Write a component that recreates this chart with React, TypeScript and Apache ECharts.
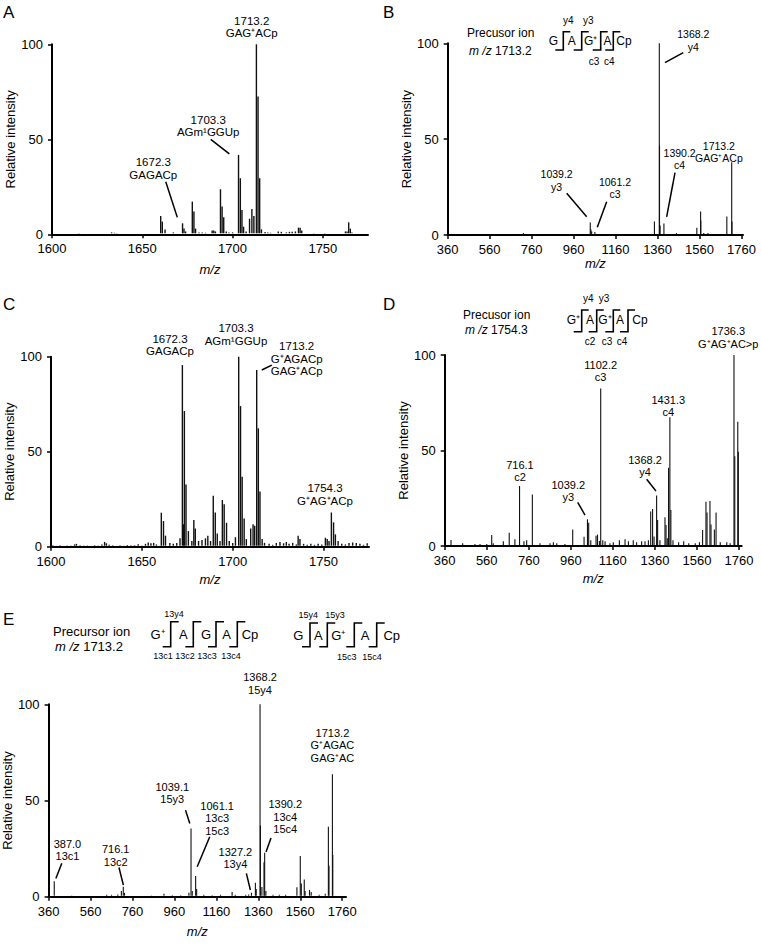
import React, { useEffect, useRef } from 'react';
import * as echarts from 'echarts';

const FONT = '"Liberation Sans", Arial, Helvetica, sans-serif';

// ---------------- data ----------------
const ticksNarrow = [1600, 1650, 1700, 1750];
const ticksWide = [360, 560, 760, 960, 1160, 1360, 1560, 1760];

// [m/z, relative intensity]
const peaksA: number[][] = [
  [1603, 0.5], [1615, 0.7], [1618, 0.5], [1633, 1], [1634.6, 0.8], [1636, 0.7],
  [1660.2, 9.6], [1661.1, 6.7], [1662.6, 2.5], [1667.2, 1], [1672.3, 5.8], [1673.1, 3], [1674, 1.5],
  [1677.7, 17.2], [1678.6, 12], [1679.5, 3], [1681.4, 1], [1683.2, 1], [1685, 0.8],
  [1688.7, 2], [1689.6, 2], [1690.5, 1.5], [1693.3, 23.7], [1694.2, 14.6], [1695.1, 9],
  [1696.5, 1.5], [1698, 1], [1700, 1], [1703.3, 41.8], [1704.3, 29.5], [1705.2, 12.8], [1706.1, 4],
  [1707.5, 1.5], [1709.4, 8.2], [1710.7, 13.3], [1711.8, 9.6], [1713.2, 100], [1714.1, 72.5],
  [1715, 29.5], [1716, 2.6], [1718, 1.2], [1719.5, 1], [1721, 0.8], [1725.3, 1.5], [1727, 1.3],
  [1729.8, 1], [1731.5, 1.3], [1733, 1.3], [1734.8, 1.5], [1736.5, 3.5], [1737.4, 3.5], [1738.3, 2],
  [1745, 0.7], [1748, 0.6], [1751, 0.7], [1754, 0.6], [1762.5, 1.5], [1763.4, 1.5], [1764.3, 6.3],
  [1765.2, 3], [1766.1, 1],
];

const peaksB: number[][] = [
  [721, 1], [903, 0.5], [960, 0.5], [1039.2, 6.5], [1042, 3], [1046, 2], [1061.2, 1.5], [1100, 0.5],
  [1208, 0.5], [1345, 7], [1368.2, 100], [1369.2, 46.5], [1372, 5], [1390.2, 6], [1450, 1],
  [1547, 3.8], [1565, 12.2], [1566, 7.5], [1580, 1], [1600, 1], [1690, 9.6], [1713.2, 38], [1714.5, 7],
];

const peaksC: number[][] = [
  [1601, 0.8], [1603, 0.6], [1605, 0.8], [1607, 0.5], [1609, 0.7], [1611, 0.6], [1613, 1.2], [1614, 1.5],
  [1616, 0.8], [1618, 0.6], [1620, 0.7], [1622, 0.5], [1624, 0.8], [1626, 0.6], [1628, 1.2], [1629.5, 2.5],
  [1630.5, 1.8], [1632, 1], [1634, 0.7], [1636, 0.5], [1638, 0.8], [1640, 0.6], [1642, 0.9], [1644, 0.7],
  [1646, 0.8], [1648, 1.3], [1650, 0.6], [1652, 1.5], [1653.5, 2.2], [1655, 1.8], [1656.5, 2], [1658, 1.2],
  [1660.7, 17.9], [1661.9, 13.5], [1663, 5.8], [1665.4, 2], [1667.3, 1.5], [1669.2, 2], [1671, 4.4],
  [1672.3, 95.6], [1673, 11.8], [1673.4, 71.4], [1674.3, 32.8], [1675.6, 8.2], [1677.5, 3], [1678.6, 14],
  [1679.4, 9.6], [1681.2, 3], [1683.1, 3.5], [1685, 4.4], [1686.3, 5.8], [1687.8, 3], [1689.3, 26.8],
  [1690.4, 18], [1691.5, 7], [1693, 3], [1694.3, 24.6], [1695.3, 22.3], [1696.6, 12.6], [1698.1, 3],
  [1700, 2], [1701.5, 5], [1703.3, 100], [1704.3, 74], [1705.2, 36.8], [1706.3, 14.9], [1707.5, 4],
  [1709.9, 9.6], [1711.2, 11.8], [1712.1, 11], [1713.2, 93], [1714.1, 62.3], [1715, 29], [1716.2, 4],
  [1717.5, 2], [1720, 1.5], [1722, 1], [1724, 2], [1726, 2.5], [1728, 1.8], [1729.5, 2.5], [1731, 1.5],
  [1733, 2], [1735, 1.2], [1736, 5.8], [1737, 4], [1739, 1.5], [1741, 1], [1743, 1.5], [1745, 1],
  [1747, 1.5], [1749, 1.2], [1751, 4.7], [1752, 4], [1753, 3], [1754.3, 18], [1755.5, 12.8],
  [1756.5, 6.5], [1758, 3], [1760, 1.5], [1762, 1.2], [1764, 2], [1766, 2.2], [1768, 2], [1770, 1.5],
  [1772, 1], [1774, 1.8],
];

const peaksD: number[][] = [
  [390, 3.1], [445.6, 1.5], [504, 1], [528, 1], [560, 1], [583.6, 5.8], [591, 1.5], [639, 2.5], [667, 7],
  [694, 3.5], [716.1, 31.4], [737, 2.5], [750, 3], [777, 27], [813, 1.5], [861, 1.5], [877, 2], [893, 1.5],
  [932, 1], [969, 8.7], [1023, 4.9], [1039.2, 14], [1045, 12.2], [1055, 3], [1080, 5.4], [1087, 6],
  [1096, 2.6], [1102.2, 82.5], [1112, 3], [1123, 2.5], [1146, 1.5], [1162, 2], [1191, 3], [1218, 3.5],
  [1234, 2.5], [1257, 3], [1273, 2], [1297, 2.5], [1313, 2.5], [1329, 3], [1340, 18], [1349, 19.4],
  [1356, 5], [1368.2, 26.4], [1373, 13.6], [1384, 3], [1408, 15], [1413, 11], [1419, 4], [1425, 41],
  [1431.3, 67.4], [1436, 18.8], [1446, 3], [1473, 2], [1497, 2.5], [1521, 1.5], [1552, 1.5], [1572, 2],
  [1587, 8.4], [1603, 23.2], [1608, 17.6], [1622, 23.6], [1627, 11.3], [1643, 8.7], [1651, 17.6],
  [1671, 2], [1702, 2], [1718, 1.5], [1736.3, 100], [1740, 47], [1754.3, 65], [1757, 49.4],
];

const peaksE: number[][] = [
  [387.0, 8], [420, 0.5], [470, 0.4], [520, 0.5], [637, 1], [660, 1], [690, 1.2], [707, 3], [716.1, 5.2],
  [722, 2], [800, 0.5], [850, 0.6], [910, 1.5], [950, 0.7], [990, 0.8], [1029, 2], [1039.1, 35.5],
  [1045, 3], [1061.1, 10.7], [1066, 4], [1100, 1], [1140, 0.8], [1180, 1], [1235, 2.5], [1250, 1],
  [1300, 1], [1314, 1.2], [1327.2, 2], [1346, 7.3], [1350, 4], [1368.2, 100], [1370, 37], [1377, 5],
  [1387, 17.9], [1390.2, 22.9], [1396, 3], [1430, 1], [1460, 1], [1490, 1], [1544, 4.9], [1560, 21.1],
  [1565, 6.9], [1579, 9], [1583, 3], [1604, 3.5], [1612, 2.5], [1650, 1], [1679, 1.5], [1694, 36.4],
  [1697, 16.1], [1713.2, 63.6], [1715, 21.7],
];

// ---------------- annotations (label text, anchored in data coords) ----------------
type Ann = { lines: string[]; at: number[]; leader?: number[][] };
const annA: Ann[] = [
  { lines: ['1713.2', 'GAG⁺ACp'], at: [1710.6, 102.6] },
  { lines: ['1703.3', 'AGm¹GGUp'], at: [1686.5, 50.3], leader: [[1687.9, 50], [1698.2, 42.3]] },
  { lines: ['1672.3', 'GAGACp'], at: [1656.1, 28.1], leader: [[1663, 27.7], [1669.4, 8.9]] },
];
const annB: Ann[] = [
  { lines: ['1368.2', 'y4'], at: [1530, 94.9], leader: [[1482.4, 95.1], [1395.2, 89.9]] },
  { lines: ['1713.2', 'GAG⁺ACp'], at: [1652, 36.7] },
  { lines: ['1039.2', 'y3'], at: [879, 21.9], leader: [[927, 21.8], [1022.2, 9.5]] },
  { lines: ['1061.2', 'c3'], at: [1157, 17.9], leader: [[1117.5, 17.4], [1072.7, 4]] },
  { lines: ['1390.2', 'c4'], at: [1465, 33.2], leader: [[1443, 32.5], [1403.3, 9.5]] },
];
const annC: Ann[] = [
  { lines: ['1672.3', 'GAGACp'], at: [1665.5, 99.6] },
  { lines: ['1703.3', 'AGm¹GGUp'], at: [1701.8, 105.2] },
  { lines: ['1713.2', 'G⁺AGACp', 'GAG⁺ACp'], at: [1735.2, 89], leader: [[1716, 93], [1721.5, 95.6]] },
  { lines: ['1754.3', 'G⁺AG⁺ACp'], at: [1750.8, 21] },
];
const annD: Ann[] = [
  { lines: ['1736.3', 'G⁺AG⁺AC>p'], at: [1709, 102.5] },
  { lines: ['1102.2', 'c3'], at: [1102, 85.1] },
  { lines: ['1431.3', 'c4'], at: [1423.7, 66.8] },
  { lines: ['716.1', 'c2'], at: [718, 32.7] },
  { lines: ['1368.2', 'y4'], at: [1313, 35.3], leader: [[1320.9, 34.9], [1365, 28.8]] },
  { lines: ['1039.2', 'y3'], at: [948, 22.3], leader: [[992.7, 22.9], [1027.5, 16.2]] },
];
const annE: Ann[] = [
  { lines: ['1368.2', '15y4'], at: [1368, 104.2] },
  { lines: ['1713.2', 'G⁺AGAC', 'GAG⁺AC'], at: [1713.3, 69.1] },
  { lines: ['1039.1', '15y3'], at: [949.6, 47.3], leader: [[1012.9, 45], [1033.3, 38.1]] },
  { lines: ['1061.1', '13c3', '15c3'], at: [1163.6, 31], leader: [[1128.4, 31.2], [1068.5, 15.6]] },
  { lines: ['1390.2', '13c4', '15c4'], at: [1488.4, 31.9], leader: [[1420.4, 30.5], [1396.6, 23.2]] },
  { lines: ['1327.2', '13y4'], at: [1250.6, 13.5], leader: [[1303, 12.1], [1322, 3.5]] },
  { lines: ['387.0', '13c1'], at: [450, 17.9], leader: [[423, 17.4], [394.7, 9.5]] },
  { lines: ['716.1', '13c2'], at: [680, 14.9], leader: [[695.7, 15.2], [716.6, 6]] },
];

// ---------------- layout ----------------
const panels = [
  { peaks: peaksA, anns: annA, min: 1600, max: 1775, ticks: ticksNarrow, grid: { left: 52, top: 44.3, width: 316, height: 190 }, xGap: 29, yGap: 31, lw: 1.4, afs: 11.5 },
  { peaks: peaksB, anns: annB, min: 360, max: 1767, ticks: ticksWide, grid: { left: 447.7, top: 43.3, width: 295.3, height: 191.7 }, xGap: 14, yGap: 31, lw: 1.1, afs: 10.5 },
  { peaks: peaksC, anns: annC, min: 1600, max: 1775, ticks: ticksNarrow, grid: { left: 51, top: 356.7, width: 318, height: 190 }, xGap: 26, yGap: 30, lw: 1.4, afs: 11.5 },
  { peaks: peaksD, anns: annD, min: 360, max: 1773, ticks: ticksWide, grid: { left: 444.7, top: 355, width: 297, height: 191 }, xGap: 26, yGap: 29, lw: 1.1, afs: 11 },
  { peaks: peaksE, anns: annE, min: 360, max: 1778, ticks: ticksWide, grid: { left: 47.7, top: 704.3, width: 298.3, height: 192.4 }, xGap: 28, yGap: 32, lw: 1.1, afs: 11 },
];

type Seq = {
  fs: number; lfs: number; y: number; yTop: number; yBot: number; armL: number; armR: number;
  tokens: [number, string][]; brackets: number[]; labels: [number, number, string][];
};
const seqs: Seq[] = [
  {
    fs: 12, lfs: 10, y: 40.7, yTop: 31.7, yBot: 50, armL: 8, armR: 7,
    tokens: [[553.5, 'G'], [571.7, 'A'], [590.7, 'G⁺'], [607.5, 'A'], [624, 'Cp']],
    brackets: [563.3, 581.7, 600.7, 613.3],
    labels: [[568.3, 20.7, 'y4'], [588.3, 20.7, 'y3'], [594, 61, 'c3'], [609.3, 61, 'c4']],
  },
  {
    fs: 12, lfs: 10, y: 320, yTop: 310, yBot: 331.7, armL: 8, armR: 7,
    tokens: [[573.3, 'G⁺'], [590, 'A'], [605, 'G⁺'], [620, 'A'], [640, 'Cp']],
    brackets: [581.7, 596.7, 613.3, 628],
    labels: [[588.3, 298.3, 'y4'], [604, 298.3, 'y3'], [590, 341, 'c2'], [607, 341, 'c3'], [622, 341, 'c4']],
  },
  {
    fs: 13, lfs: 9, y: 634, yTop: 621.7, yBot: 646.7, armL: 8, armR: 8,
    tokens: [[157.5, 'G⁺'], [183.3, 'A'], [206, 'G'], [226.7, 'A'], [250, 'Cp']],
    brackets: [170.7, 193.3, 216, 237.3],
    labels: [[174, 614.3, '13y4'], [163, 655.7, '13c1'], [185, 655.7, '13c2'], [207, 655.7, '13c3'], [231, 655.7, '13c4']],
  },
  {
    fs: 13, lfs: 9, y: 635, yTop: 623, yBot: 646.7, armL: 8, armR: 8,
    tokens: [[298.3, 'G'], [318.3, 'A'], [338.3, 'G⁺'], [365, 'A'], [391.7, 'Cp']],
    brackets: [310, 327.3, 354.3, 376.7],
    labels: [[308.3, 615, '15y4'], [335, 615, '15y3'], [346.7, 656.7, '15c3'], [372, 656.7, '15c4']],
  },
];

const precursors = [
  { x: 467, y1: 33.3, y2: 50.7, title: 'Precusor ion', mz: '1713.2', fs: 12 },
  { x: 463, y1: 315, y2: 329.5, title: 'Precusor ion', mz: '1754.3', fs: 12 },
  { x: 53, y1: 631.5, y2: 646, title: 'Precursor ion', mz: '1713.2', fs: 13 },
];

const letters: [number, number, string][] = [[3, 4, 'A'], [383, 4, 'B'], [3, 296, 'C'], [383, 296, 'D'], [3, 611, 'E']];

function buildOption() {
  const grid: any[] = [];
  const xAxis: any[] = [];
  const yAxis: any[] = [];
  const series: any[] = [];
  panels.forEach((p, i) => {
    grid.push({ ...p.grid, containLabel: false });
    xAxis.push({
      type: 'value', gridIndex: i, min: p.min, max: p.max,
      axisLine: { show: true, onZero: false, lineStyle: { color: '#000', width: 2 } },
      axisTick: { show: true, length: 4, lineStyle: { color: '#000', width: 1.5 }, customValues: p.ticks },
      axisLabel: { customValues: p.ticks, fontSize: 13, color: '#000', fontFamily: FONT, margin: 8, formatter: (v: number) => String(v) },
      splitLine: { show: false },
      name: 'm/z', nameLocation: 'middle', nameGap: p.xGap,
      nameTextStyle: { fontStyle: 'italic', fontSize: 13, color: '#000', fontFamily: FONT },
    });
    yAxis.push({
      type: 'value', gridIndex: i, min: 0, max: 100, interval: 50,
      axisLine: { show: true, lineStyle: { color: '#000', width: 2 } },
      axisTick: { show: true, length: 4, lineStyle: { color: '#000', width: 1.5 } },
      axisLabel: { fontSize: 13, color: '#000', fontFamily: FONT, margin: 9, formatter: (v: number) => String(v) },
      splitLine: { show: false },
      name: 'Relative intensity', nameLocation: 'middle', nameGap: p.yGap, nameRotate: 90,
      nameTextStyle: { fontSize: 13, color: '#000', fontFamily: FONT },
    });
    const lw = p.lw;
    series.push({
      type: 'custom', xAxisIndex: i, yAxisIndex: i, data: p.peaks, clip: false,
      encode: { x: 0, y: 1 }, silent: true,
      renderItem: (params: any, api: any) => {
        const x = api.value(0);
        const h = api.value(1);
        const a = api.coord([x, 0]);
        const b = api.coord([x, h]);
        return { type: 'line', shape: { x1: a[0], y1: a[1] - 1, x2: b[0], y2: b[1] }, style: { stroke: '#111', lineWidth: lw } };
      },
    });
    const anns = p.anns;
    const afs = p.afs;
    series.push({
      type: 'custom', xAxisIndex: i, yAxisIndex: i, data: anns.map((a) => a.at), clip: false,
      encode: { x: 0, y: 1 }, silent: true,
      renderItem: (params: any, api: any) => {
        const ann = anns[params.dataIndex];
        const pt = api.coord(ann.at);
        const children: any[] = [{
          type: 'text', x: pt[0], y: pt[1],
          style: { text: ann.lines.join('\n'), fontSize: afs, fontFamily: FONT, fill: '#000', align: 'center', verticalAlign: 'bottom', lineHeight: 12.5 },
        }];
        if (ann.leader) {
          const q0 = api.coord(ann.leader[0]);
          const q1 = api.coord(ann.leader[1]);
          children.push({ type: 'line', shape: { x1: q0[0], y1: q0[1], x2: q1[0], y2: q1[1] }, style: { stroke: '#000', lineWidth: 1.5 } });
        }
        return { type: 'group', children };
      },
    });
  });

  const graphic: any[] = [];
  letters.forEach(([x, y, t]) => graphic.push({ type: 'text', x, y, style: { text: t, fontSize: 17, fontFamily: FONT, fill: '#000', align: 'left', verticalAlign: 'top' } }));
  precursors.forEach((pr) => {
    graphic.push({ type: 'text', x: pr.x, y: pr.y1, style: { text: pr.title, fontSize: pr.fs, fontFamily: FONT, fill: '#000', align: 'left', verticalAlign: 'middle' } });
    graphic.push({
      type: 'text', x: pr.x + 2, y: pr.y2,
      style: { text: '{i|m /z} ' + pr.mz, fontSize: pr.fs, fontFamily: FONT, fill: '#000', align: 'left', verticalAlign: 'middle', rich: { i: { fontStyle: 'italic', fontSize: pr.fs, fontFamily: FONT, fill: '#000' } } },
    });
  });
  seqs.forEach((s) => {
    s.tokens.forEach(([x, t]) => graphic.push({ type: 'text', x, y: s.y, style: { text: t, fontSize: s.fs, fontFamily: FONT, fill: '#000', align: 'center', verticalAlign: 'middle' } }));
    s.brackets.forEach((bx) => graphic.push({
      type: 'polyline',
      shape: { points: [[bx - s.armL, s.yBot], [bx, s.yBot], [bx, s.yTop], [bx + s.armR, s.yTop]] },
      style: { stroke: '#000', lineWidth: 1.6, fill: null },
    }));
    s.labels.forEach(([x, y, t]) => graphic.push({ type: 'text', x, y, style: { text: t, fontSize: s.lfs, fontFamily: FONT, fill: '#000', align: 'center', verticalAlign: 'middle' } }));
  });

  return { animation: false, backgroundColor: '#fff', grid, xAxis, yAxis, series, graphic };
}

export default function App() {
  const ref = useRef<HTMLDivElement>(null);
  useEffect(() => {
    const chart = echarts.init(ref.current!, null, { renderer: 'svg' });
    chart.setOption(buildOption() as any);
    return () => chart.dispose();
  }, []);
  return <div ref={ref} style={{ position: 'absolute', left: 0, top: 0, width: 761, height: 944, background: '#fff' }} />;
}
